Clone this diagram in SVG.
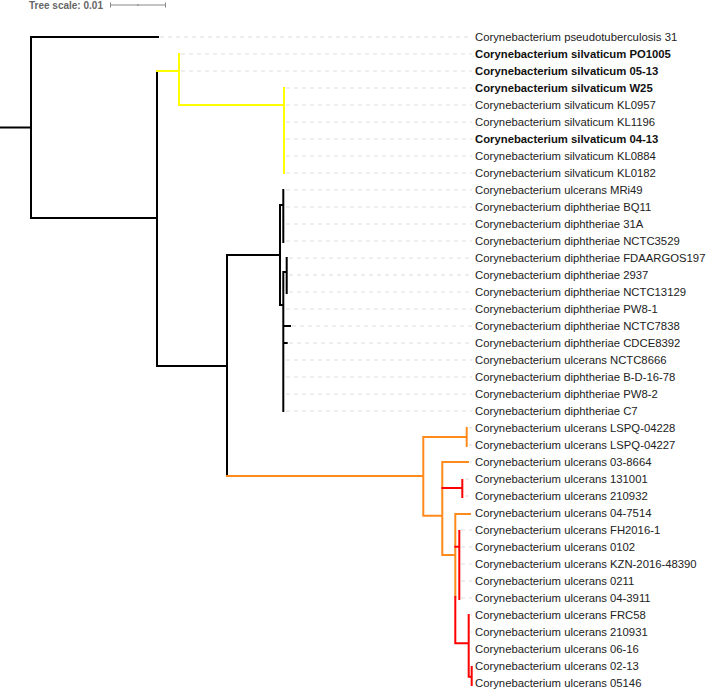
<svg xmlns="http://www.w3.org/2000/svg" width="707" height="691" viewBox="0 0 707 691">
<style>
.bg{fill:#ffffff}
.lbl{font-family:"Liberation Sans",Arial,sans-serif;font-size:11.3px;fill:#222222}
.b{font-weight:bold;fill:#111111}
.scale{font-family:"Liberation Sans",Arial,sans-serif;font-size:10px;font-weight:bold;fill:#666666}
.sb{stroke:#888888;stroke-width:1;fill:none}
.guide{stroke:#dddddd;stroke-width:1;stroke-dasharray:4 4;fill:none}
.k{stroke:#000000;stroke-width:2;fill:none;stroke-linecap:square}
.y{stroke:#ffff00;stroke-width:2;fill:none;stroke-linecap:square}
.o{stroke:#ff8a1c;stroke-width:2;fill:none;stroke-linecap:square}
.r{stroke:#ff0000;stroke-width:2;fill:none;stroke-linecap:square}
</style>
<rect class="bg" x="0" y="0" width="707" height="691"/>
<g id="tree-scale">
<text class="scale" x="29" y="9">Tree scale: 0.01</text>
<path class="sb" d="M110 5H166M110.5 2.5V7.5M165.5 2.5V7.5M138 4V6"/>
</g>
<g id="guides">
<path class="guide" d="M160 37H472M181 54H472M181 71H472M286 88H472M286 105H472M286 122H472M286 139H472M286 156H472M286 173H472M286 190H472M286 207H472M286 224H472M286 241H472M289 258H472M289 275H472M289 292H472M286 309H472M292 326H472M289 343H472M286 360H472M286 377H472M286 394H472M286 411H472M469 428H472M469 445H472M470 462H472M465 479H472M465 496H472M461 530H472M461 547H472M461 564H472M461 581H472M461 598H472M471 615H472M471 632H472M471 649H472"/>
</g>
<g id="connectors">
<path class="k" d="M0 127.5H31M31 37V218M31 37H158M31 218H157M157 71V366M157 366H227M227 255V476M227 255H280M280 205V305M280 205H283.3M283.3 190V242M280 305H283.3M283.3 272V411M283.3 272H286.7M286.7 258V293M283.3 326H290M283.3 343H286.7"/>
<path class="y" d="M157 71H179M179 54V105M179 105H284M284 88V173"/>
<path class="o" d="M227 476H423.3M423.3 437V515.7M423.3 437H466.7M466.7 428V446M423.3 515.7H442.3M442.3 462V555M442.3 462H468M442.3 555H455.3M455.3 514V597M455.3 514H470"/>
<path class="r" d="M442.3 488H462.3M462.3 480V497M455.3 597V643.3M455.3 546.7H459.3M459.3 531V599M455.3 643.3H468.7M468.7 615V676.7M468.7 676.7H471.7M471.7 667V685"/>
</g>
<g id="leaves">
<g id="leaf-0"><text class="lbl" x="475" y="41">Corynebacterium pseudotuberculosis 31</text></g>
<g id="leaf-1"><text class="lbl b" x="475" y="58">Corynebacterium silvaticum PO1005</text></g>
<g id="leaf-2"><text class="lbl b" x="475" y="75">Corynebacterium silvaticum 05-13</text></g>
<g id="leaf-3"><text class="lbl b" x="475" y="92">Corynebacterium silvaticum W25</text></g>
<g id="leaf-4"><text class="lbl" x="475" y="109">Corynebacterium silvaticum KL0957</text></g>
<g id="leaf-5"><text class="lbl" x="475" y="126">Corynebacterium silvaticum KL1196</text></g>
<g id="leaf-6"><text class="lbl b" x="475" y="143">Corynebacterium silvaticum 04-13</text></g>
<g id="leaf-7"><text class="lbl" x="475" y="160">Corynebacterium silvaticum KL0884</text></g>
<g id="leaf-8"><text class="lbl" x="475" y="177">Corynebacterium silvaticum KL0182</text></g>
<g id="leaf-9"><text class="lbl" x="475" y="194">Corynebacterium ulcerans MRi49</text></g>
<g id="leaf-10"><text class="lbl" x="475" y="211">Corynebacterium diphtheriae BQ11</text></g>
<g id="leaf-11"><text class="lbl" x="475" y="228">Corynebacterium diphtheriae 31A</text></g>
<g id="leaf-12"><text class="lbl" x="475" y="245">Corynebacterium diphtheriae NCTC3529</text></g>
<g id="leaf-13"><text class="lbl" x="475" y="262">Corynebacterium diphtheriae FDAARGOS197</text></g>
<g id="leaf-14"><text class="lbl" x="475" y="279">Corynebacterium diphtheriae 2937</text></g>
<g id="leaf-15"><text class="lbl" x="475" y="296">Corynebacterium diphtheriae NCTC13129</text></g>
<g id="leaf-16"><text class="lbl" x="475" y="313">Corynebacterium diphtheriae PW8-1</text></g>
<g id="leaf-17"><text class="lbl" x="475" y="330">Corynebacterium diphtheriae NCTC7838</text></g>
<g id="leaf-18"><text class="lbl" x="475" y="347">Corynebacterium diphtheriae CDCE8392</text></g>
<g id="leaf-19"><text class="lbl" x="475" y="364">Corynebacterium ulcerans NCTC8666</text></g>
<g id="leaf-20"><text class="lbl" x="475" y="381">Corynebacterium diphtheriae B-D-16-78</text></g>
<g id="leaf-21"><text class="lbl" x="475" y="398">Corynebacterium diphtheriae PW8-2</text></g>
<g id="leaf-22"><text class="lbl" x="475" y="415">Corynebacterium diphtheriae C7</text></g>
<g id="leaf-23"><text class="lbl" x="475" y="432">Corynebacterium ulcerans LSPQ-04228</text></g>
<g id="leaf-24"><text class="lbl" x="475" y="449">Corynebacterium ulcerans LSPQ-04227</text></g>
<g id="leaf-25"><text class="lbl" x="475" y="466">Corynebacterium ulcerans 03-8664</text></g>
<g id="leaf-26"><text class="lbl" x="475" y="483">Corynebacterium ulcerans 131001</text></g>
<g id="leaf-27"><text class="lbl" x="475" y="500">Corynebacterium ulcerans 210932</text></g>
<g id="leaf-28"><text class="lbl" x="475" y="517">Corynebacterium ulcerans 04-7514</text></g>
<g id="leaf-29"><text class="lbl" x="475" y="534">Corynebacterium ulcerans FH2016-1</text></g>
<g id="leaf-30"><text class="lbl" x="475" y="551">Corynebacterium ulcerans 0102</text></g>
<g id="leaf-31"><text class="lbl" x="475" y="568">Corynebacterium ulcerans KZN-2016-48390</text></g>
<g id="leaf-32"><text class="lbl" x="475" y="585">Corynebacterium ulcerans 0211</text></g>
<g id="leaf-33"><text class="lbl" x="475" y="602">Corynebacterium ulcerans 04-3911</text></g>
<g id="leaf-34"><text class="lbl" x="475" y="619">Corynebacterium ulcerans FRC58</text></g>
<g id="leaf-35"><text class="lbl" x="475" y="636">Corynebacterium ulcerans 210931</text></g>
<g id="leaf-36"><text class="lbl" x="475" y="653">Corynebacterium ulcerans 06-16</text></g>
<g id="leaf-37"><text class="lbl" x="475" y="670">Corynebacterium ulcerans 02-13</text></g>
<g id="leaf-38"><text class="lbl" x="475" y="687">Corynebacterium ulcerans 05146</text></g>
</g>
</svg>
